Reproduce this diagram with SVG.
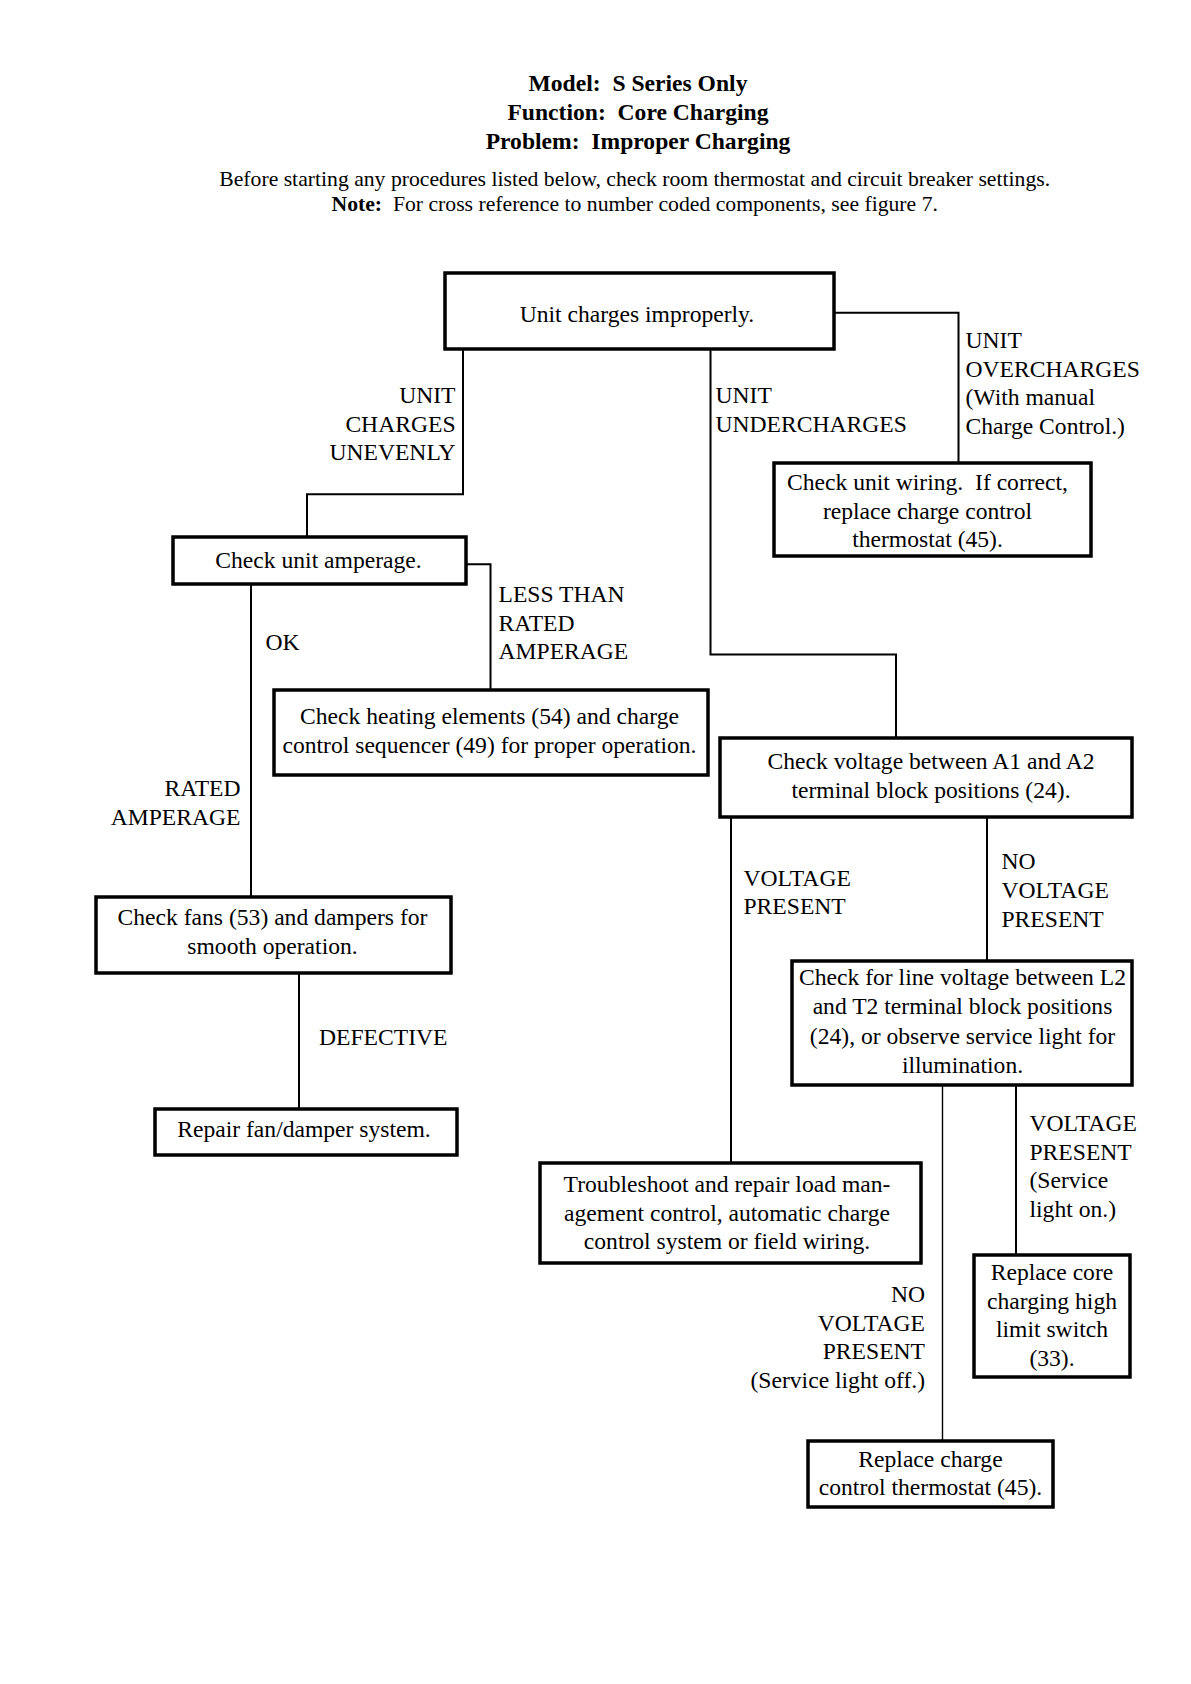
<svg xmlns="http://www.w3.org/2000/svg" width="1191" height="1684" viewBox="0 0 1191 1684">
<style>
text{font-family:"Liberation Serif","Times New Roman",serif;font-size:23.6px;fill:#000}
.h{font-weight:bold;text-anchor:middle}
.s{font-size:21.7px;text-anchor:middle}
.c{text-anchor:middle}
.r{text-anchor:end}
.box{fill:#fff;stroke:#000;stroke-width:3.5}
.conn path{fill:none;stroke:#000;stroke-width:2}
</style>
<rect width="1191" height="1684" fill="#fff"/>
<g id="header">
<text class="h" x="638" y="90.5" xml:space="preserve">Model:  S Series Only</text>
<text class="h" x="638" y="119.5" xml:space="preserve">Function:  Core Charging</text>
<text class="h" x="638" y="148.5" xml:space="preserve">Problem:  Improper Charging</text>
<text class="s" x="634.7" y="185.5">Before starting any procedures listed below, check room thermostat and circuit breaker settings.</text>
<text class="s" x="634.7" y="210.5" xml:space="preserve"><tspan font-weight="bold">Note:</tspan>  For cross reference to number coded components, see figure 7.</text>
</g>
<g class="conn" id="connectors">
<path d="M834,312.7 H958.5 V463"/>
<path d="M463,349 V494.3 H307 V537"/>
<path d="M710.5,349 V654.5 H896 V738"/>
<path d="M466,564.3 H490.5 V690"/>
<path d="M251,584 V897"/>
<path d="M299,973 V1109"/>
<path d="M731,817 V1163"/>
<path d="M987,817 V961"/>
<path d="M1016,1085 V1255"/>
<path d="M942.5,1085 V1441" style="stroke-width:1.4"/>
</g>
<g id="labels">
<text class="r" x="455.5" y="403.3">UNIT</text>
<text class="r" x="455.5" y="431.7">CHARGES</text>
<text class="r" x="455.5" y="460">UNEVENLY</text>
<text x="715.5" y="402.7">UNIT</text>
<text x="715.5" y="431.5">UNDERCHARGES</text>
<text x="965.5" y="348.3">UNIT</text>
<text x="965.5" y="376.7">OVERCHARGES</text>
<text x="965.5" y="405.3">(With manual</text>
<text x="965.5" y="434">Charge Control.)</text>
<text x="498.5" y="602.3">LESS THAN</text>
<text x="498.5" y="630.7">RATED</text>
<text x="498.5" y="659">AMPERAGE</text>
<text x="265.5" y="650">OK</text>
<text class="r" x="240.5" y="796">RATED</text>
<text class="r" x="240.5" y="824.5">AMPERAGE</text>
<text x="743.5" y="886">VOLTAGE</text>
<text x="743.5" y="914.3">PRESENT</text>
<text x="1001.5" y="869.3">NO</text>
<text x="1001.5" y="898.3">VOLTAGE</text>
<text x="1001.5" y="927.3">PRESENT</text>
<text x="319" y="1045">DEFECTIVE</text>
<text x="1029.5" y="1131">VOLTAGE</text>
<text x="1029.5" y="1159.5">PRESENT</text>
<text x="1029.5" y="1188.3">(Service</text>
<text x="1029.5" y="1216.7">light on.)</text>
<text class="r" x="925" y="1301.7">NO</text>
<text class="r" x="925" y="1330.7">VOLTAGE</text>
<text class="r" x="925" y="1359.3">PRESENT</text>
<text class="r" x="925" y="1388.3">(Service light off.)</text>
</g>
<g id="n-start">
<rect class="box" x="445" y="273" width="389" height="76"/>
<text class="c" x="637" y="321.5">Unit charges improperly.</text>
</g>
<g id="n-overcharge">
<rect class="box" x="774" y="463" width="317" height="93"/>
<text class="c" x="927.5" y="490" xml:space="preserve">Check unit wiring.  If correct,</text>
<text class="c" x="927.5" y="518.5">replace charge control</text>
<text class="c" x="927.5" y="547">thermostat (45).</text>
</g>
<g id="n-amperage">
<rect class="box" x="173" y="537" width="293" height="47"/>
<text class="c" x="318.5" y="568.3">Check unit amperage.</text>
</g>
<g id="n-heating">
<rect class="box" x="274" y="690" width="434" height="85"/>
<text class="c" x="489.5" y="724">Check heating elements (54) and charge</text>
<text class="c" x="489.5" y="753">control sequencer (49) for proper operation.</text>
</g>
<g id="n-voltage">
<rect class="box" x="720" y="738" width="412" height="79"/>
<text class="c" x="931" y="769.3">Check voltage between A1 and A2</text>
<text class="c" x="931" y="798.3">terminal block positions (24).</text>
</g>
<g id="n-fans">
<rect class="box" x="96" y="897" width="355" height="76"/>
<text class="c" x="272.5" y="925">Check fans (53) and dampers for</text>
<text class="c" x="272.5" y="954">smooth operation.</text>
</g>
<g id="n-repair">
<rect class="box" x="155" y="1109" width="302" height="46"/>
<text class="c" x="304" y="1136.7">Repair fan/damper system.</text>
</g>
<g id="n-linevoltage">
<rect class="box" x="792" y="961" width="340" height="124"/>
<text class="c" x="962.5" y="985">Check for line voltage between L2</text>
<text class="c" x="962.5" y="1014.3">and T2 terminal block positions</text>
<text class="c" x="962.5" y="1043.5">(24), or observe service light for</text>
<text class="c" x="962.5" y="1072.5">illumination.</text>
</g>
<g id="n-troubleshoot">
<rect class="box" x="540" y="1163" width="381" height="100"/>
<text class="c" x="727" y="1191.7">Troubleshoot and repair load man-</text>
<text class="c" x="727" y="1220.7">agement control, automatic charge</text>
<text class="c" x="727" y="1249.3">control system or field wiring.</text>
</g>
<g id="n-core">
<rect class="box" x="974" y="1255" width="156" height="122"/>
<text class="c" x="1052" y="1280">Replace core</text>
<text class="c" x="1052" y="1308.5">charging high</text>
<text class="c" x="1052" y="1337">limit switch</text>
<text class="c" x="1052" y="1365.5">(33).</text>
</g>
<g id="n-thermostat">
<rect class="box" x="808" y="1441" width="245" height="66"/>
<text class="c" x="930.5" y="1466.7">Replace charge</text>
<text class="c" x="930.5" y="1495">control thermostat (45).</text>
</g>
</svg>
